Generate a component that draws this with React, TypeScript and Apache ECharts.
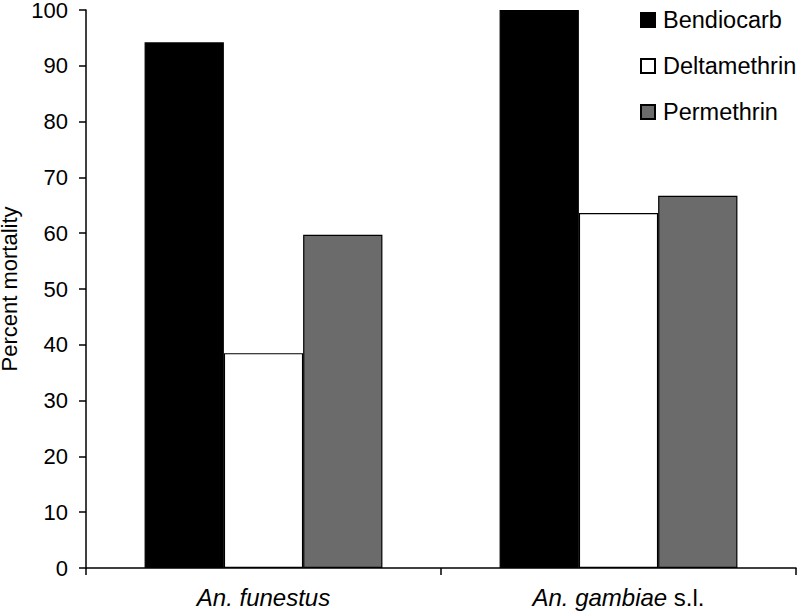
import React, { useEffect, useRef } from "react";
import * as echarts from "echarts";

const categories = ["An. funestus", "An. gambiae s.l."];
const seriesNames = ["Bendiocarb", "Deltamethrin", "Permethrin"];
const bendiocarb = [94.2, 100];
const deltamethrin = [38.5, 63.6];
const permethrin = [59.7, 66.7];
const yTicks = { min: 0, max: 100, interval: 10 };

const FONT = "'Liberation Sans', Arial, sans-serif";

export default function App() {
  const ref = useRef<HTMLDivElement>(null);
  useEffect(() => {
    if (!ref.current) return;
    const chart = echarts.init(ref.current, null, { renderer: "svg" });
    const colors = ["#000000", "#ffffff", "#6b6b6b"];
    const values = [bendiocarb, deltamethrin, permethrin];
    chart.setOption({
      animation: false,
      textStyle: { fontFamily: FONT, color: "#000" },
      grid: { left: 86, right: 4, top: 10, bottom: 44, containLabel: false, outerBoundsMode: "none" },
      legend: {
        orient: "vertical",
        left: 640,
        top: 8,
        padding: 0,
        itemWidth: 14,
        itemHeight: 14,
        itemGap: 22,
        icon: "rect",
        textStyle: { fontFamily: FONT, fontSize: 23.5, color: "#000", lineHeight: 24, padding: [0, 0, 0, 3] },
        data: seriesNames,
      },
      xAxis: {
        type: "category",
        data: categories,
        axisLine: { lineStyle: { color: "#000", width: 1.5 } },
        axisTick: { show: true, length: 7, lineStyle: { color: "#000", width: 1.5 } },
        axisLabel: {
          margin: 17,
          fontSize: 24,
          fontFamily: FONT,
          color: "#000",
          formatter: (v: string) =>
            v.endsWith(" s.l.") ? "{i|" + v.replace(" s.l.", "") + "} s.l." : "{i|" + v + "}",
          rich: { i: { fontStyle: "italic", fontSize: 24, fontFamily: FONT, color: "#000" } },
        },
        splitLine: { show: false },
      },
      yAxis: {
        type: "value",
        min: yTicks.min,
        max: yTicks.max,
        interval: yTicks.interval,
        name: "Percent mortality",
        nameLocation: "middle",
        nameGap: 62,
        nameTextStyle: { fontSize: 22, lineHeight: 20, fontFamily: FONT, color: "#000" },
        axisLine: { show: true, lineStyle: { color: "#000", width: 1.5 } },
        axisTick: { show: true, length: 7, lineStyle: { color: "#000", width: 1.5 } },
        axisLabel: { margin: 18, fontSize: 22, lineHeight: 18, padding: [3, 0, 0, 0], fontFamily: FONT, color: "#000" },
        splitLine: { show: false },
      },
      series: seriesNames.map((name, i) => ({
        name,
        type: "bar",
        data: values[i],
        barGap: "0%",
        barCategoryGap: "33%",
        itemStyle: { color: colors[i], borderColor: "#000", borderWidth: 1.2 },
      })),
    });
    return () => chart.dispose();
  }, []);
  return <div ref={ref} style={{ width: 800, height: 612, position: "absolute", left: 0, top: 0 }} />;
}
